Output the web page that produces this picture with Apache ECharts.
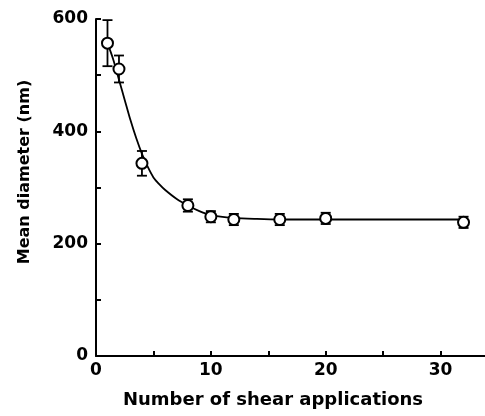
<!DOCTYPE html>
<html>
<head>
<meta charset="utf-8">
<script src="https://cdn.jsdelivr.net/npm/echarts@6/dist/echarts.min.js"></script>
<style>
html,body{margin:0;padding:0;background:#fff;overflow:hidden;}
#c{width:485px;height:416px;}
</style>
</head>
<body>
<div id="c"></div>
<script>
// Measured points
var shearCounts = [1, 2, 4, 8, 10, 12, 16, 20, 32];
var meanDiameter = [557, 511, 343, 268, 248, 243, 243, 245, 238];
var errDiameter = [41, 24, 22, 11, 10, 10, 10, 10, 10];
// Fitted curve
var curveX = [1, 1.5, 2, 2.5, 3, 3.5, 4, 4.5, 5, 5.5, 6, 7, 8, 9, 10, 12, 14, 16, 20, 26, 32];
var curveY = [557, 528, 492, 456, 420, 388, 360, 337, 318, 306, 296, 280, 268, 258, 251, 246, 244, 243, 243, 243, 243];
var xTickLabels = [0, 10, 20, 30];
var yTickLabels = [0, 200, 400, 600];

var FONT = 'DejaVu Sans';
var chart = echarts.init(document.getElementById('c'), null, {renderer: 'canvas'});

var scatterData = shearCounts.map(function (x, i) { return [x, meanDiameter[i]]; });
var errData = shearCounts.map(function (x, i) { return [x, meanDiameter[i] - errDiameter[i], meanDiameter[i] + errDiameter[i]]; });
var curveData = curveX.map(function (x, i) { return [x, curveY[i]]; });

chart.setOption({
  animation: false,
  backgroundColor: '#fff',
  grid: {left: 96, width: 402, top: 19, bottom: 60, containLabel: false, outerBoundsMode: 'none'},
  xAxis: {
    type: 'value', min: 0, max: 35, interval: 5,
    axisLine: {show: true, lineStyle: {color: '#000', width: 2}},
    axisTick: {show: true, inside: true, length: 5, lineStyle: {color: '#000', width: 2}},
    axisLabel: {
      margin: 6, color: '#000', fontFamily: FONT, fontWeight: 'bold', fontSize: 17,
      formatter: function (v) { return xTickLabels.indexOf(v) >= 0 ? String(v) : ''; }
    },
    splitLine: {show: false}
  },
  yAxis: {
    type: 'value', min: 0, max: 600, interval: 100,
    axisLine: {show: true, lineStyle: {color: '#000', width: 2}},
    axisTick: {show: true, inside: true, length: 5, lineStyle: {color: '#000', width: 2}},
    axisLabel: {
      margin: 8, color: '#000', fontFamily: FONT, fontWeight: 'bold', fontSize: 17,
      formatter: function (v) { return yTickLabels.indexOf(v) >= 0 ? String(v) : ''; }
    },
    splitLine: {show: false}
  },
  graphic: [
    {type: 'text', x: 273, y: 400, style: {text: 'Number of shear applications', fill: '#000', font: 'bold 18px "DejaVu Sans"', align: 'center', verticalAlign: 'middle'}},
    {type: 'text', x: 25, y: 172, rotation: Math.PI / 2, style: {text: 'Mean diameter (nm)', fill: '#000', font: 'bold 16px "DejaVu Sans"', align: 'center', verticalAlign: 'middle'}}
  ],
  series: [
    {
      type: 'line', data: curveData, smooth: 0.3, showSymbol: false, symbol: 'none',
      lineStyle: {color: '#000', width: 1.8}, z: 1, silent: true
    },
    {
      type: 'custom', data: errData, z: 2, silent: true,
      renderItem: function (params, api) {
        var x = api.value(0);
        var lo = api.coord([x, api.value(1)]);
        var hi = api.coord([x, api.value(2)]);
        var w = 5;
        var st = {stroke: '#000', lineWidth: 1.8};
        return {type: 'group', children: [
          {type: 'line', shape: {x1: lo[0], y1: lo[1], x2: hi[0], y2: hi[1]}, style: st},
          {type: 'line', shape: {x1: lo[0] - w, y1: lo[1], x2: lo[0] + w, y2: lo[1]}, style: st},
          {type: 'line', shape: {x1: hi[0] - w, y1: hi[1], x2: hi[0] + w, y2: hi[1]}, style: st}
        ]};
      },
      encode: {x: 0, y: [1, 2]}
    },
    {
      type: 'scatter', data: scatterData, symbol: 'circle', symbolSize: 11, z: 3,
      itemStyle: {color: '#fff', borderColor: '#000', borderWidth: 2, opacity: 1}
    }
  ]
});
</script>
</body>
</html>
